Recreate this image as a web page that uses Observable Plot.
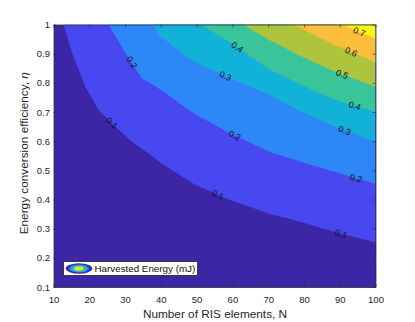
<!DOCTYPE html>
<html><head><meta charset="utf-8">
<script src="https://cdn.jsdelivr.net/npm/d3@7"></script>
<script src="https://cdn.jsdelivr.net/npm/@observablehq/plot@0.6"></script>
<style>
body{margin:0;background:#fff;}
#wrap{position:relative;width:415px;height:322px;font-family:"Liberation Sans",Arial,Helvetica,sans-serif;}
#legend{position:absolute;left:62.5px;top:261px;width:135.5px;height:14.7px;background:#fff;border:0.7px solid #3a3a3a;box-sizing:border-box;font-size:9.8px;color:#111;white-space:nowrap;}
#legend svg{position:absolute;left:1.5px;top:1.2px;}
#legend span{position:absolute;left:31px;top:0.6px;line-height:12px;}
</style></head><body><div id="wrap"></div>
<script>
// Contour levels (mJ) and fill colours for the bands between them
const levels = [0.1, 0.2, 0.3, 0.4, 0.5, 0.6, 0.7];
const bandColors = ["#3d26a6", "#4748ef", "#2e87f6", "#12b1d7", "#39c599", "#adc43c", "#fcbe3b", "#f7f71a"];

// Contour lines: N (RIS elements) and eta (efficiency)
const N01 = [12.85, 15.2, 18.9, 22.6, 27.3, 31.9, 36.6, 40.3, 49.1, 58.4, 70.3, 79.3, 88.6, 100];
const eta01 = [1, 0.902, 0.787, 0.707, 0.65, 0.598, 0.558, 0.523, 0.454, 0.403, 0.351, 0.323, 0.289, 0.253];
const N02 = [25.4, 30.1, 34.7, 40, 49.1, 58.4, 70.3, 79.3, 88.6, 100];
const eta02 = [1, 0.902, 0.816, 0.776, 0.696, 0.633, 0.564, 0.529, 0.494, 0.454];
const N03 = [37.9, 39.8, 49.1, 58.4, 70.3, 79.3, 88.6, 100];
const eta03 = [1, 0.96, 0.873, 0.822, 0.759, 0.701, 0.65, 0.597];
const N04 = [51, 58.4, 70.3, 79.3, 88.6, 100];
const eta04 = [1, 0.947, 0.847, 0.793, 0.742, 0.701];
const N05 = [63, 70.3, 79.3, 88.6, 100];
const eta05 = [1, 0.947, 0.89, 0.839, 0.787];
const N06 = [77, 88.6, 100];
const eta06 = [1, 0.93, 0.871];
const N07 = [90.7, 100];
const eta07 = [1, 0.952];

// Contour labels: level and N position along the line
const labelLevels = [0.1, 0.2, 0.1, 0.2, 0.3, 0.4, 0.7, 0.6, 0.5, 0.4, 0.3, 0.2, 0.1];
const labelN = [26.2, 31.7, 55.8, 60.5, 57.9, 61.2, 95.3, 93, 90.5, 94, 91.2, 94.4, 90.2];

const xTicks = [10, 20, 30, 40, 50, 60, 70, 80, 90, 100];
const yTicks = [0.1, 0.2, 0.3, 0.4, 0.5, 0.6, 0.7, 0.8, 0.9, 1];
const xLabel = "Number of RIS elements, N";
const yLabel = "Energy conversion efficiency, η";
const legendLabel = "Harvested Energy (mJ)";

const curveN = [N01, N02, N03, N04, N05, N06, N07];
const curveEta = [eta01, eta02, eta03, eta04, eta05, eta06, eta07];
const curves = curveN.map((ns, i) => ns.map((n, j) => ({N: n, eta: curveEta[i][j]})));

const W = 415, H = 322, ml = 53.5, mr = 39.5, mt = 24.5, mb = 35;
const innerW = W - ml - mr, innerH = H - mt - mb;
const xDom = [xTicks[0], xTicks[xTicks.length - 1]];
const yDom = [yTicks[0], yTicks[yTicks.length - 1]];
const sx = innerW / (xDom[1] - xDom[0]), sy = innerH / (yDom[1] - yDom[0]);

function etaAt(c, n) {
  for (let j = 0; j < c.length - 1; j++) {
    if (n >= c[j].N && n <= c[j + 1].N) {
      const t = (n - c[j].N) / (c[j + 1].N - c[j].N);
      return c[j].eta + t * (c[j + 1].eta - c[j].eta);
    }
  }
  return n < c[0].N ? c[0].eta : c[c.length - 1].eta;
}
const labels = labelLevels.map((L, i) => {
  const c = curves[levels.indexOf(L)];
  const n = labelN[i];
  const e = etaAt(c, n);
  const slope = (etaAt(c, n + 2) - etaAt(c, n - 2)) / 4;
  const r = Math.atan(-slope * sy / sx) * 180 / Math.PI;
  return {N: n, eta: e, t: String(L), r};
});

const tickStyle = {stroke: "#262626", strokeWidth: 0.6};
const chart = Plot.plot({
  width: W, height: H,
  marginLeft: ml, marginRight: mr, marginTop: mt, marginBottom: mb,
  style: {fontFamily: '"Liberation Sans", Arial, Helvetica, sans-serif', color: "#262626", background: "#fff"},
  x: {domain: xDom},
  y: {domain: yDom},
  marks: [
    Plot.frame({fill: bandColors[0], stroke: null}),
    ...levels.map((L, i) => Plot.areaY(curves[i], {x: "N", y1: "eta", y2: () => yDom[1], fill: bandColors[i + 1], clip: true})),
    Plot.text(labels, {x: "N", y: "eta", text: "t", rotate: "r", fontSize: 8.8, fill: "#111"}),
    Plot.tickX(xTicks, {x: d => d, insetTop: innerH - 3, ...tickStyle}),
    Plot.tickX(xTicks, {x: d => d, insetBottom: innerH - 3, ...tickStyle}),
    Plot.tickY(yTicks, {y: d => d, insetRight: innerW - 3, ...tickStyle}),
    Plot.tickY(yTicks, {y: d => d, insetLeft: innerW - 3, ...tickStyle}),
    Plot.frame({stroke: "#262626", strokeWidth: 0.7}),
    Plot.axisX({ticks: xTicks, tickSize: 0, tickPadding: 8.5, label: null, fontSize: 9.5, tickFormat: d => String(d)}),
    Plot.axisY({ticks: yTicks, tickSize: 0, tickPadding: 4, label: null, fontSize: 9.5, tickFormat: d => String(d)}),
    Plot.text([xLabel], {frameAnchor: "bottom", textAnchor: "middle", lineAnchor: "middle", dy: 26.5, fontSize: 11.8, fill: "#262626", text: d => d}),
    Plot.text([yLabel], {frameAnchor: "left", textAnchor: "middle", lineAnchor: "middle", dx: -30, dy: -3, rotate: -90, fontSize: 11.8, fill: "#262626", text: d => d})
  ]
});
const wrap = document.getElementById("wrap");
wrap.appendChild(chart);
// italic eta in y label
chart.querySelectorAll("text").forEach(t => {
  if (t.textContent === yLabel) {
    t.textContent = yLabel.slice(0, -1);
    const ts = document.createElementNS("http://www.w3.org/2000/svg", "tspan");
    ts.setAttribute("font-style", "italic");
    ts.textContent = yLabel.slice(-1);
    t.appendChild(ts);
  }
});
const lg = document.createElement("div");
lg.id = "legend";
lg.innerHTML = '<svg width="28" height="11" viewBox="0 0 28 11"><ellipse cx="14" cy="5.5" rx="13.3" ry="5.2" fill="#3b2bb4"/><ellipse cx="14" cy="5.5" rx="10" ry="4" fill="#2e7ff0"/><ellipse cx="14" cy="5.5" rx="8.3" ry="3.4" fill="#18b8d0"/><ellipse cx="14" cy="5.5" rx="4.7" ry="2" fill="#f3ef1e"/></svg><span></span>';
lg.querySelector("span").textContent = legendLabel;
wrap.appendChild(lg);
</script></body></html>
